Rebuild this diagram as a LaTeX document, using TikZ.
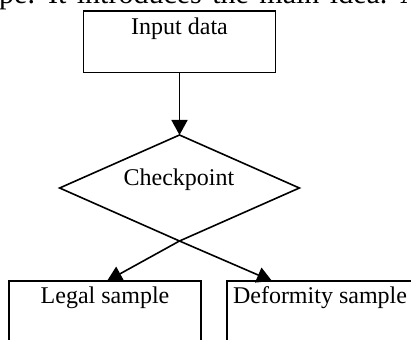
\documentclass[tikz,border=0pt]{standalone}
\usepackage{fontspec}
\setmainfont{Liberation Serif}
\usetikzlibrary{shapes.geometric,arrows.meta}
\begin{document}
\begin{tikzpicture}[x=1pt,y=-1pt,
  lw/.style={line width=1.6pt},
  txt/.style={font=\fontsize{24}{28}\selectfont},
  boxnode/.style={draw, lw, fill=white, inner sep=0pt, outer sep=0pt, anchor=north, txt},
  dia/.style={draw, lw, diamond, inner sep=0pt, outer sep=0pt, minimum width=239.7pt, minimum height=106pt},
  arr/.style={lw, -{Triangle[length=15pt,width=16pt]}}]
\useasboundingbox (0,0) rectangle (411,339);
\clip (0,0) rectangle (411,339);
\node[anchor=base west, font=\fontsize{30}{36}\selectfont, inner sep=0pt] (toptext) at (-1,4)
  {\spaceskip=10.5pt pe. It introduces the main idea. A};
\node[boxnode, minimum width=192pt, text height=24pt, text depth=37.7pt] (inp) at (179.5,11) {Input data};
\node[dia] (chk) at (179.5,188) {};
\node[txt, anchor=base, inner sep=0pt] (chklabel) at (179,185) {Checkpoint};
\node[boxnode, minimum width=192pt, text height=22.3pt, text depth=80pt] (legal) at (105,281) {Legal sample};
\node[boxnode, minimum width=186pt, text height=22.3pt, text depth=80pt] (deform) at (320,281) {Deformity sample};
\coordinate (tipL) at (107,281);
\coordinate (tipR) at (272,281);
\draw[arr] (inp.south) -- (chk.north);
\draw[arr] (chk.south) -- (tipL);
\draw[arr] (chk.south) -- (tipR);
\end{tikzpicture}
\end{document}
